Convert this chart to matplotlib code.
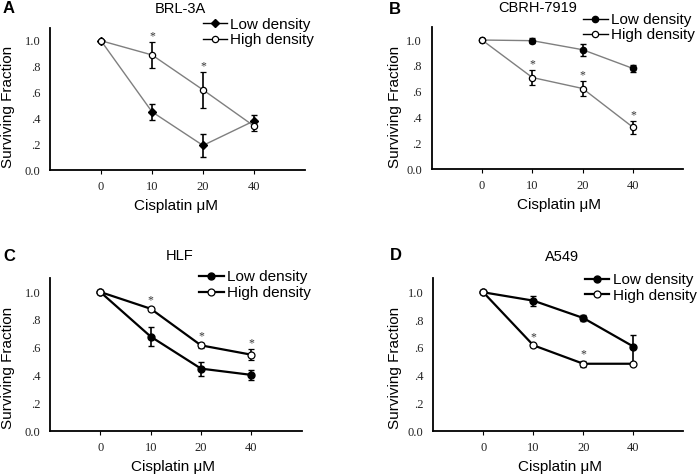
import numpy as np
import matplotlib
matplotlib.use("Agg")
import matplotlib.pyplot as plt
from matplotlib.lines import Line2D

doses = ["0", "10", "20", "40"]
labels = ["Low density", "High density"]
titles = ["BRL-3A", "CBRH-7919", "HLF", "A549"]
letters = ["A", "B", "C", "D"]

# surviving fraction, mean and error (low density / high density)
brl_low = [1.0, 0.45, 0.19, 0.38]
brl_low_err = [0.0, 0.06, 0.09, 0.045]
brl_high = [1.0, 0.89, 0.62, 0.34]
brl_high_err = [0.0, 0.10, 0.14, 0.035]
brl_star = [1, 2]

cbrh_low = [1.0, 0.995, 0.925, 0.78]
cbrh_low_err = [0.0, 0.02, 0.045, 0.03]
cbrh_high = [1.0, 0.71, 0.625, 0.325]
cbrh_high_err = [0.0, 0.06, 0.06, 0.05]
cbrh_star = [1, 2, 3]

hlf_low = [1.0, 0.68, 0.45, 0.405]
hlf_low_err = [0.0, 0.07, 0.05, 0.035]
hlf_high = [1.0, 0.88, 0.617, 0.55]
hlf_high_err = [0.0, 0.015, 0.02, 0.04]
hlf_star = [1, 2, 3]

a549_low = [1.0, 0.94, 0.815, 0.61]
a549_low_err = [[0.0, 0.035, 0.02, 0.12], [0.0, 0.035, 0.02, 0.08]]
a549_high = [1.0, 0.619, 0.486, 0.486]
a549_high_err = [0.0, 0.01, 0.02, 0.0]
a549_star = [1, 2]

panels = [
    (brl_low, brl_low_err, brl_high, brl_high_err, brl_star),
    (cbrh_low, cbrh_low_err, cbrh_high, cbrh_high_err, cbrh_star),
    (hlf_low, hlf_low_err, hlf_high, hlf_high_err, hlf_star),
    (a549_low, a549_low_err, a549_high, a549_high_err, a549_star),
]

W, H = 700, 476
# axes boxes in pixels: left, right, top, bottom
boxes = [(50, 305, 27.8, 170), (431.7, 683.3, 27.1, 169.3),
         (50, 301.7, 278.1, 431.3), (433.3, 683.3, 278.4, 431.3)]
title_pos = [(180, 9), (538, 7.5), (180, 256.3), (562, 257)]
letter_pos = [(8.5, 8.7), (394.7, 9), (9.2, 256.3), (396, 256)]
ylab_pos = [(8.5, 106.7), (395, 106.7), (8.5, 368), (395, 368)]
xlab_pos = [(176, 206), (559, 205.3), (173.3, 467.3), (560, 467.3)]
leg_pos = [(0.60, 1.072), (0.602, 1.10), (0.593, 1.05), (0.607, 1.035)]
line_col = ["#7f7f7f", "#7f7f7f", "black", "black"]
line_w = [1.0, 1.0, 1.6, 1.6]
low_marker = ["D", "o", "o", "o"]

sans = "Liberation Sans"
serif = "Liberation Serif"

fig = plt.figure(figsize=(7, 4.76), dpi=100)
x = np.arange(len(doses))

for i, (low, low_err, high, high_err, stars) in enumerate(panels):
    l, r, t, b = boxes[i]
    ax = fig.add_axes([l / W, 1 - b / H, (r - l) / W, (b - t) / H])
    ms = 4.5 if i < 2 else 5
    lms = ms if low_marker[i] == "o" else ms - 0.5
    ax.errorbar(x, low, yerr=low_err, color=line_col[i], lw=line_w[i],
                marker=low_marker[i], ms=lms, mfc="black", mec="black",
                ecolor="black", elinewidth=1.2, capsize=2.2, capthick=1.0,
                zorder=3)
    ax.errorbar(x, high, yerr=high_err, color=line_col[i], lw=line_w[i],
                marker="o", ms=ms, mfc="white", mec="black", mew=0.9,
                ecolor="black", elinewidth=1.2, capsize=2.2, capthick=1.0,
                zorder=3)
    he = np.array(high_err)
    for k in stars:
        ax.text(x[k], high[k] + he[k] + 0.045, "*", ha="center", va="center",
                fontsize=8.5, family=serif, color="#333333")
    ax.set_xlim(-1, 4)
    ax.set_ylim(0, 1.1)
    ax.set_xticks(x)
    ax.set_xticklabels(doses)
    ax.set_yticks([0, 0.2, 0.4, 0.6, 0.8, 1.0])
    ax.set_yticklabels(["0.0", ".2", ".4", ".6", ".8", "1.0"])
    ax.tick_params(axis="x", length=3, width=0.8, pad=5, labelsize=9)
    ax.tick_params(axis="y", length=0, pad=7, labelsize=9)
    for lab in ax.get_xticklabels() + ax.get_yticklabels():
        lab.set_family(serif)
        lab.set_color("#222222")
    ax.spines["top"].set_visible(False)
    ax.spines["right"].set_visible(False)
    ax.spines["left"].set_linewidth(1.3)
    ax.spines["bottom"].set_linewidth(1.3)

    handles = [
        Line2D([], [], color="black", lw=line_w[i], marker=low_marker[i],
               ms=lms, mfc="black", mec="black"),
        Line2D([], [], color="black", lw=line_w[i], marker="o", ms=ms,
               mfc="white", mec="black", mew=0.9),
    ]
    ax.legend(handles, labels, loc="upper left", bbox_to_anchor=leg_pos[i],
              frameon=False, borderpad=0, borderaxespad=0, handlelength=1.6,
              handletextpad=0.2, labelspacing=0.1,
              prop={"family": sans, "size": 11})

    fig.text(title_pos[i][0] / W, 1 - title_pos[i][1] / H, titles[i],
             ha="center", va="center", family=sans, fontsize=10.5)
    fig.text(letter_pos[i][0] / W, 1 - letter_pos[i][1] / H, letters[i],
             ha="center", va="center", family=sans, fontsize=12, weight="bold")
    fig.text(ylab_pos[i][0] / W, 1 - ylab_pos[i][1] / H, "Surviving Fraction",
             ha="center", va="center", rotation=90, family=sans, fontsize=11)
    fig.text(xlab_pos[i][0] / W, 1 - xlab_pos[i][1] / H, "Cisplatin \u03bcM",
             ha="center", va="center", family=sans, fontsize=11)

fig.savefig("out.png", dpi=100)
